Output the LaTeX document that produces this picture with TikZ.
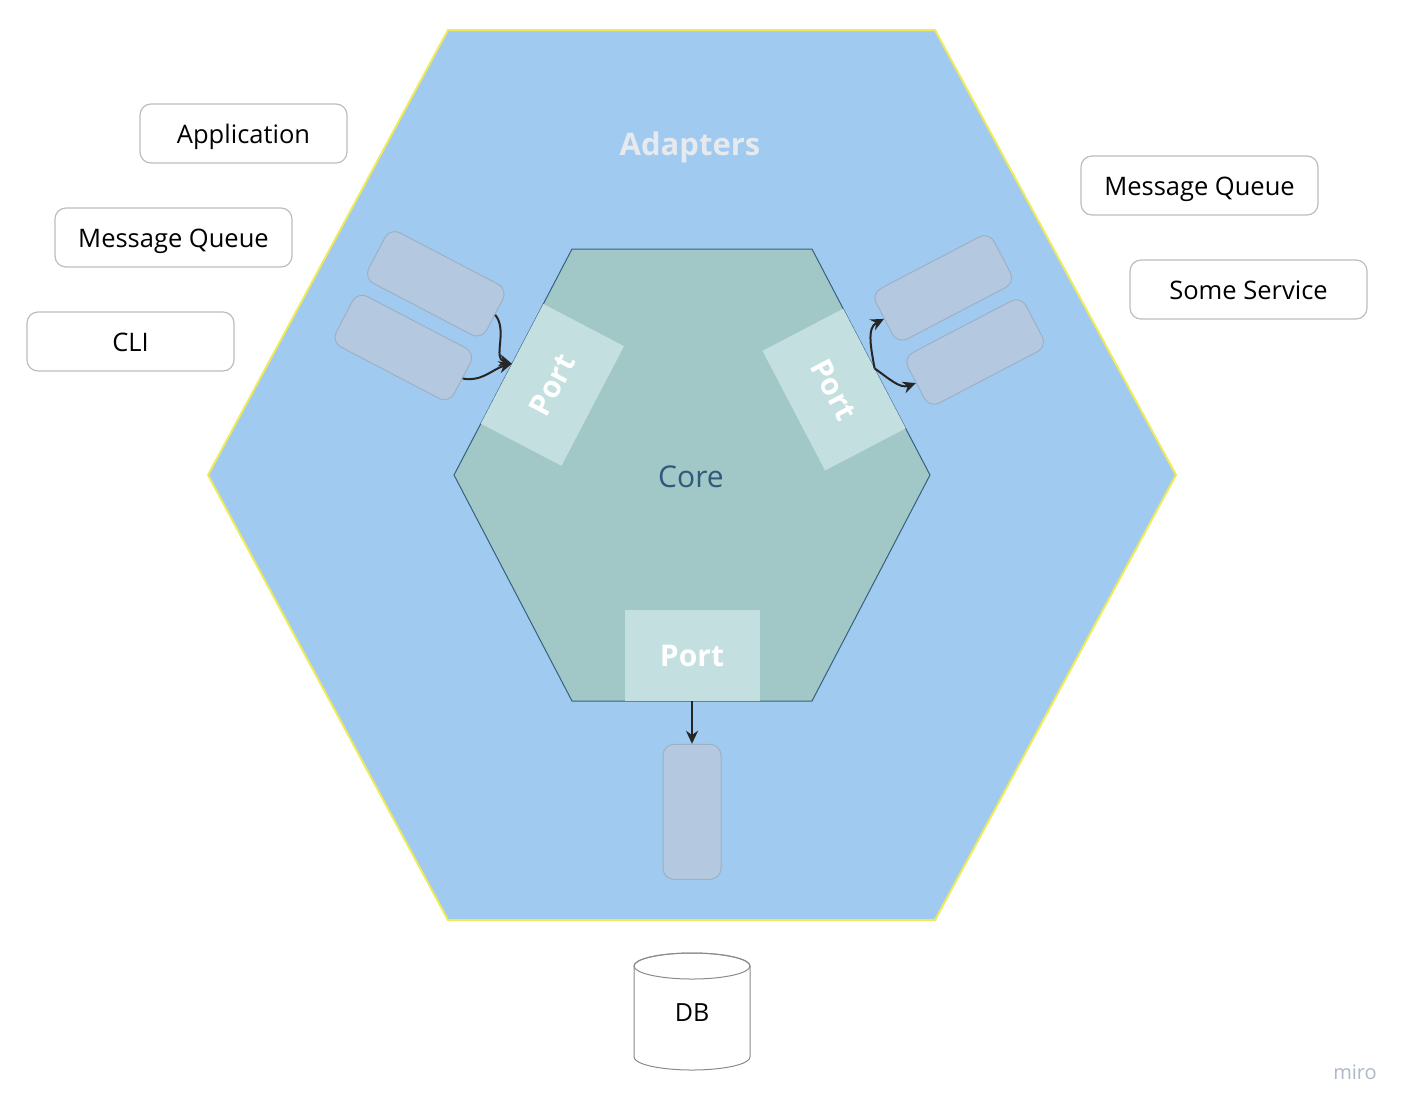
\documentclass[tikz,border=0pt]{standalone}
\usepackage{fontspec}
\setmainfont{Open Sans}
\usetikzlibrary{arrows.meta}
\definecolor{outerfill}{HTML}{A1CAF1}
\definecolor{outerline}{HTML}{EEEA5A}
\definecolor{innerfill}{HTML}{A1C8C6}
\definecolor{innerline}{HTML}{35617F}
\definecolor{portfill}{HTML}{C4DFDF}
\definecolor{adfill}{HTML}{B4C9DF}
\definecolor{adline}{HTML}{9DB1C6}
\definecolor{boxline}{HTML}{BDBDBD}
\definecolor{adaptertext}{HTML}{E6E9EE}
\definecolor{coretext}{HTML}{2F5A7C}
\definecolor{arrowc}{HTML}{262626}
\definecolor{mirotext}{HTML}{B0B8C6}
\definecolor{dbline}{HTML}{8A8A8A}
\begin{document}
\begin{tikzpicture}[x=1pt,y=-1pt,
  tbox/.style={draw=boxline, line width=1.2pt, rounded corners=11pt, fill=white,
    minimum height=59pt, inner sep=0pt, text=black, text height=20pt, text depth=0pt,
    font=\fontsize{25.5}{30}\selectfont},
  adapterbox/.style={draw=adline, fill=adfill, line width=1pt, rounded corners=11pt,
    minimum width=133pt, minimum height=57pt, inner sep=0pt},
  portbox/.style={fill=portfill, minimum width=135pt, minimum height=91pt, inner sep=0pt,
    text=white, font=\bfseries\fontsize{30}{36}\selectfont},
  conn/.style={draw=arrowc, line width=2pt, -{Stealth[length=13pt,width=12pt]}}
]
\useasboundingbox (0,0) rectangle (1408,1112);

% outer hexagon (adapters)
\filldraw[fill=outerfill, draw=outerline, line width=2pt]
  (448,30) -- (935,30) -- (1176,475) -- (935,920) -- (448,920) -- (208,475) -- cycle;
\node[text=adaptertext, font=\bfseries\fontsize{31}{36}\selectfont] (adapters) at (690,147) {Adapters};

% inner hexagon (core)
\filldraw[fill=innerfill, draw=innerline, line width=1pt]
  (572,249) -- (812,249) -- (930,475) -- (812,701) -- (572,701) -- (454,475) -- cycle;
\node[text=coretext, font=\fontsize{30}{36}\selectfont] (core) at (691,477) {Core};

% ports
\node[portbox, rotate=62.4] (portL) at (552.4,384.9) {Port};
\node[portbox, rotate=-62.4] (portR) at (834.1,389.6) {Port};
\node[portbox] (portB) at (692,655.5) {Port};

% adapters
\node[adapterbox, rotate=-27.6] (al1) at (435.8,283.8) {};
\node[adapterbox, rotate=-27.6] (al2) at (403.3,347.5) {};
\node[adapterbox, rotate=27.6] (ar1) at (943.3,287.9) {};
\node[adapterbox, rotate=27.6] (ar2) at (975.2,352) {};
\node[adapterbox, minimum width=58pt, minimum height=135pt] (ab) at (692,811.8) {};

% connectors
\draw[conn] (al1.east) to[out=-50, in=165] (portL.north);
\draw[conn] (al2.east) to[out=-10, in=195] (portL.north);
\draw[conn] (portR.north) to[out=100, in=207] (ar1.west);
\draw[conn] (portR.north) to[out=-35, in=200] (ar2.west);
\draw[conn] (portB.south) -- (ab.north);

% outside boxes
\node[tbox, minimum width=207pt] (app) at (243.5,133.5) {Application};
\node[tbox, minimum width=237pt] (mql) at (173.5,237.5) {Message Queue};
\node[tbox, minimum width=207pt] (cli) at (130.5,341.5) {CLI};
\node[tbox, minimum width=237pt] (mqr) at (1199.5,185.5) {Message Queue};
\node[tbox, minimum width=237pt] (svc) at (1248.5,289.5) {Some Service};

% database cylinder
\filldraw[fill=white, draw=dbline, line width=1pt]
  (634,966) -- (634,1057) arc[start angle=180, end angle=360, x radius=58pt, y radius=13pt]
  -- (750,966) arc[start angle=0, end angle=180, x radius=58pt, y radius=13pt] -- cycle;
\draw[dbline, line width=1pt] (692,966) ellipse [x radius=58pt, y radius=13pt];
\node[font=\fontsize{25}{30}\selectfont] (db) at (692,1013) {DB};

% watermark
\node[text=mirotext, font=\fontsize{20}{24}\selectfont] (miro) at (1355,1072) {miro};
\end{tikzpicture}
\end{document}
